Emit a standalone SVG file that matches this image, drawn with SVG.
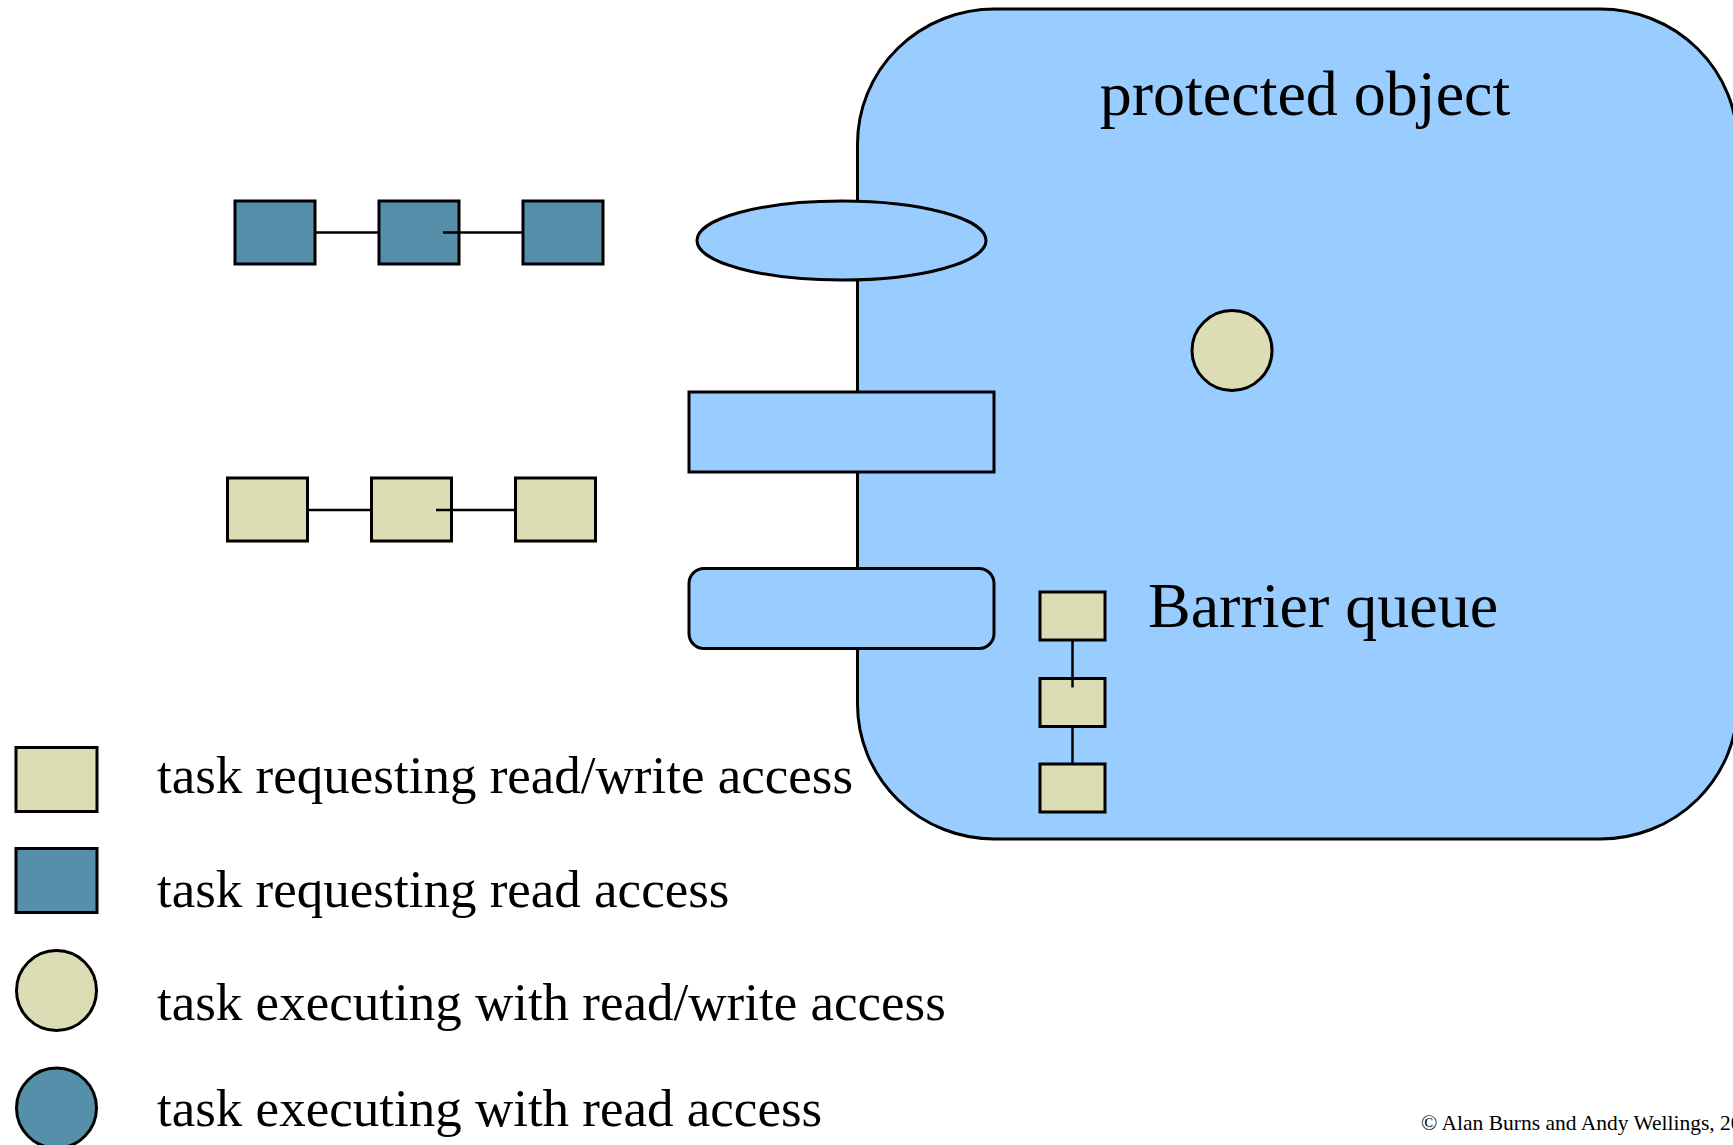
<svg xmlns="http://www.w3.org/2000/svg" width="1733" height="1145" viewBox="0 0 1733 1145">
  <style>
    .po { fill: #99CCFF; stroke: #000; stroke-width: 3; }
    .rd { fill: #558FA9; stroke: #000; stroke-width: 3; }
    .rw { fill: #DDDDB5; stroke: #000; stroke-width: 3; }
    .link { stroke: #000; stroke-width: 2.5; fill: none; }
    .big { font-family: "Liberation Serif", "Times New Roman", serif; font-size: 64px; fill: #000; }
    .legend { font-family: "Liberation Serif", "Times New Roman", serif; font-size: 53px; fill: #000; }
    .note { font-family: "Liberation Serif", "Times New Roman", serif; font-size: 21.5px; fill: #000; }
  </style>
  <rect width="1733" height="1145" fill="#FFFFFF"/>

  <!-- protected object body (runs slightly past the right edge) -->
  <g id="protected-object">
    <rect class="po" x="857.5" y="9" width="880" height="830" rx="137" ry="135"/>
    <text class="big" x="1305" y="115" text-anchor="middle">protected object</text>
  </g>

  <!-- entry points on the left edge -->
  <g id="function-entry">
    <ellipse class="po" cx="841.5" cy="240.5" rx="144.5" ry="39.5"/>
  </g>
  <g id="procedure-entry">
    <rect class="po" x="689" y="392" width="305" height="80"/>
  </g>
  <g id="entry">
    <rect class="po" x="689" y="568.5" width="305" height="80" rx="15" ry="15"/>
  </g>

  <!-- task currently inside the object -->
  <g id="executing-task">
    <circle class="rw" cx="1232" cy="350.5" r="40"/>
  </g>

  <!-- readers waiting on the function -->
  <g id="reader-1"><rect class="rd" x="235" y="201" width="80" height="63"/></g>
  <g id="reader-2"><rect class="rd" x="379" y="201" width="80" height="63"/></g>
  <g id="reader-3"><rect class="rd" x="523" y="201" width="80" height="63"/></g>

  <!-- writers waiting on the procedure -->
  <g id="writer-1"><rect class="rw" x="227.5" y="478" width="80" height="63"/></g>
  <g id="writer-2"><rect class="rw" x="371.5" y="478" width="80" height="63"/></g>
  <g id="writer-3"><rect class="rw" x="515.5" y="478" width="80" height="63"/></g>

  <!-- barrier queue -->
  <g id="barrier-queue">
    <text class="big" x="1148" y="627">Barrier queue</text>
  </g>
  <g id="queued-1"><rect class="rw" x="1040" y="592" width="65" height="48"/></g>
  <g id="queued-2"><rect class="rw" x="1040" y="678.5" width="65" height="48"/></g>
  <g id="queued-3"><rect class="rw" x="1040" y="764" width="65" height="48"/></g>

  <!-- queue links -->
  <g id="connectors">
    <line class="link" x1="315" y1="232.5" x2="379" y2="232.5"/>
    <line class="link" x1="443" y1="232.5" x2="523" y2="232.5"/>
    <line class="link" x1="307.5" y1="510" x2="371.5" y2="510"/>
    <line class="link" x1="436" y1="510" x2="515.5" y2="510"/>
    <line class="link" x1="1072.5" y1="640" x2="1072.5" y2="687.5"/>
    <line class="link" x1="1072.5" y1="726.5" x2="1072.5" y2="764"/>
  </g>

  <!-- key -->
  <g id="legend">
    <rect class="rw" x="16" y="747.5" width="81" height="64"/>
    <text class="legend" x="157" y="793">task requesting read/write access</text>
    <rect class="rd" x="16" y="848.5" width="81" height="64"/>
    <text class="legend" x="157" y="907">task requesting read access</text>
    <circle class="rw" cx="56.5" cy="990.5" r="40"/>
    <text class="legend" x="157" y="1020">task executing with read/write access</text>
    <circle class="rd" cx="56.5" cy="1108" r="40"/>
    <text class="legend" x="157" y="1126">task executing with read access</text>
  </g>

  <text class="note" x="1421" y="1130">© Alan Burns and Andy Wellings, 20</text>
</svg>
